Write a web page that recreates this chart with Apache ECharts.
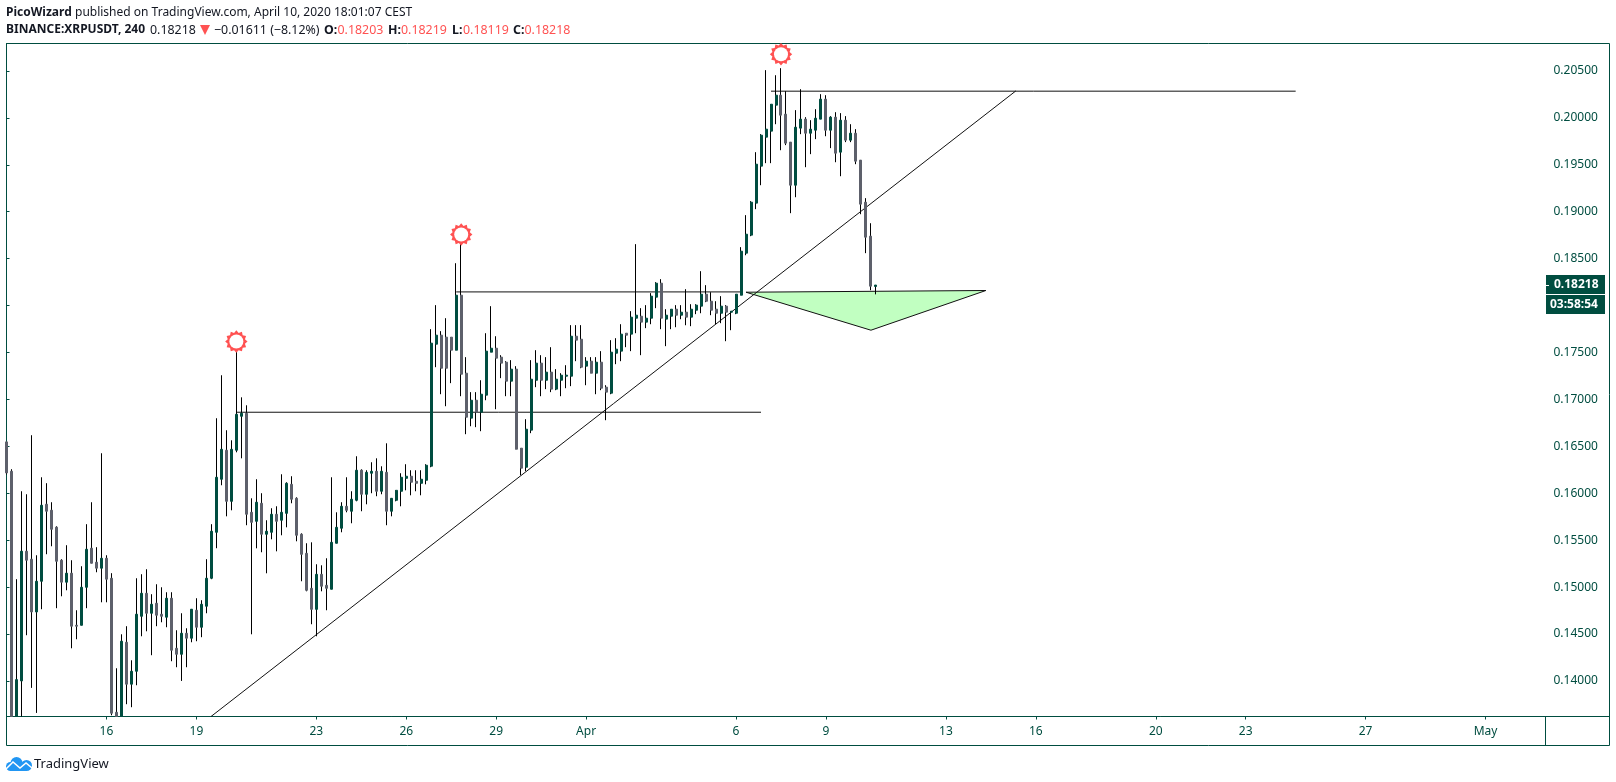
<!DOCTYPE html>
<html>
<head>
<meta charset="utf-8">
<title>BINANCE:XRPUSDT, 240</title>
<style>html,body{margin:0;padding:0;background:#fff}#chart{width:1616px;height:782px}</style>
<script src="https://cdn.jsdelivr.net/npm/echarts@6/dist/echarts.min.js"></script>
</head>
<body>
<div id="chart"></div>
<script>
// XRPUSDT 4-hour candles, one per slot starting 12 March 2020 16:00
const opens = [
.16547,.16234,.13621,.14000,.15382,.15297,.14735,.15062,.15883,.15819,
.15638,.15286,.15052,.15148,.14593,.14593,.14998,.15414,.15265,.15201,
.15307,.15094,.13666,.13621,.14412,.13965,.14103,.14689,.14934,.14721,
.14828,.14711,.14679,.14881,.14348,.14284,.14508,.14455,.14753,.14572,
.14796,.15094,.15584,.16149,.16458,.15914,.16458,.16820,.16852,.15797,
.15701,.15893,.15563,.15584,.15776,.15712,.15786,.16095,.15946,.15563,
.15360,.14987,.14763,.15136,.15019,.14977,.15467,.15627,.15861,.15808,
.15925,.16245,.15989,.16213,.16234,.16021,.16223,.15808,.15925,.16021,
.16159,.16181,.16127,.16106,.16138,.16288,.17588,.17684,.17663,.17663,
.17524,.18110,.17279,.16800,.16991,.16863,.17045,.17503,.17545,.17450,
.17396,.17194,.17322,.16480,.16277,.16672,.17204,.17386,.17204,.17290,
.17109,.17204,.17247,.17247,.17673,.17641,.17354,.17407,.17279,.17396,
.17130,.17066,.17492,.17514,.17705,.17695,.17865,.17886,.17823,.17865,
.18089,.18238,.17855,.17886,.17961,.17897,.17929,.17876,.17950,.17993,
.18121,.18046,.17961,.17918,.17993,.17929,.17918,.18110,.18558,.18750,
.19091,.19485,.19794,.19858,.20135,.20241,.20039,.19741,.19282,.19890,
.19986,.19836,.19868,.19986,.20199,.19868,.20007,.19634,.19975,.19762,
.19836,.19549,.19101,.18739,.18203];
const highs = [
.16547,.16256,.15084,.16021,.15989,.16618,.15339,.16170,.16107,.15904,
.15648,.15297,.15446,.15286,.14753,.15222,.15670,.15904,.15425,.16426,
.15339,.15148,.14135,.14497,.14583,.14220,.15094,.15137,.15190,.14924,
.15030,.14998,.14945,.14945,.14540,.14721,.14561,.14764,.14881,.14860,
.15297,.15670,.16799,.17257,.16671,.16564,.17506,.17022,.16937,.15946,
.16149,.16000,.15712,.15840,.15861,.16202,.16117,.16181,.15957,.15573,
.15467,.15477,.15243,.15232,.15307,.16170,.15797,.15904,.16170,.16021,
.16394,.16255,.16245,.16330,.16372,.16287,.16532,.15946,.16031,.16213,
.16309,.16245,.16245,.16245,.16309,.17748,.18004,.17727,.17865,.17663,
.18451,.18728,.17450,.17077,.17077,.17204,.17705,.17993,.17673,.17471,
.17407,.17418,.17354,.16480,.16789,.17418,.17524,.17471,.17450,.17556,
.17322,.17279,.17364,.17791,.17791,.17791,.17450,.17450,.17450,.17514,
.17151,.17631,.17652,.17801,.17705,.17940,.18654,.17972,.18004,.18132,
.18249,.18281,.17961,.17961,.18004,.18004,.18174,.18014,.18014,.18366,
.18217,.18142,.18046,.18100,.18004,.17940,.18121,.18622,.18963,.19112,
.19634,.19826,.20508,.20145,.20454,.20529,.20284,.19741,.20082,.20305,
.20007,.19975,.20092,.20252,.20241,.20018,.20060,.20050,.20018,.19932,
.19879,.19549,.19144,.18877,.18219];
const lows = [
.16200,.13621,.13621,.13621,.14487,.13926,.13659,.14764,.15350,.15435,
.14775,.14902,.14966,.14348,.14444,.14593,.14775,.15254,.15158,.14838,
.14838,.13634,.13621,.13621,.13752,.13720,.13954,.14476,.14529,.14274,
.14583,.14625,.14572,.14210,.14146,.14000,.14146,.14412,.14423,.14466,
.14721,.15084,.15414,.16085,.15754,.15818,.16436,.16372,.15659,.14497,
.15413,.15371,.15147,.15509,.15381,.15552,.15637,.15893,.15488,.15062,
.14955,.14604,.14476,.14955,.14753,.14977,.15467,.15584,.15797,.15680,
.15914,.15808,.15882,.16000,.15968,.15989,.15659,.15754,.15914,.15861,
.16031,.15978,.16021,.15978,.16095,.16277,.17343,.17055,.16927,.17173,
.17524,.17034,.16629,.16714,.16704,.16661,.16991,.17503,.16895,.17226,
.17034,.17034,.16469,.16192,.16235,.16640,.17130,.17034,.17109,.17077,
.17098,.17034,.17119,.17141,.17407,.17332,.17151,.17279,.17055,.17098,
.16778,.17055,.17375,.17407,.17556,.17514,.17705,.17471,.17759,.17801,
.17972,.17748,.17567,.17748,.17769,.17854,.17790,.17780,.17908,.17918,
.18036,.17897,.17801,.17812,.17620,.17737,.17908,.18110,.18536,.18739,
.19027,.19282,.19517,.19517,.19932,.19655,.19709,.18984,.19154,.19826,
.19474,.19613,.19773,.19986,.19804,.19677,.19527,.19378,.19741,.19741,
.19506,.18973,.18558,.18163,.18119];
const closes = [
.16217,.13621,.14014,.15382,.15286,.14735,.15062,.15872,.15808,.15616,
.15275,.15052,.15148,.14583,.14583,.14998,.15403,.15254,.15201,.15307,
.15084,.13656,.13621,.14423,.13965,.14103,.14711,.14934,.14721,.14817,
.14700,.14689,.14881,.14327,.14284,.14508,.14455,.14764,.14572,.14817,
.15094,.15595,.16170,.16468,.15914,.16468,.16841,.16852,.15776,.15690,
.15904,.15563,.15595,.15776,.15701,.15797,.16106,.15936,.15552,.15349,
.14966,.14763,.15136,.15009,.14987,.15477,.15637,.15861,.15818,.15936,
.16245,.15989,.16223,.16234,.16021,.16234,.15808,.15946,.16031,.16170,
.16181,.16117,.16106,.16149,.16298,.17599,.17684,.17332,.17332,.17524,
.18110,.17268,.16810,.16991,.16863,.17055,.17514,.17545,.17439,.17386,
.17194,.17322,.16469,.16267,.16682,.17215,.17386,.17204,.17290,.17109,
.17215,.17258,.17258,.17673,.17631,.17343,.17407,.17279,.17396,.17119,
.17077,.17503,.17535,.17695,.17684,.17876,.17897,.17823,.17865,.18100,
.18238,.17865,.17897,.17961,.17897,.17929,.17876,.17961,.18004,.18121,
.18046,.17950,.17918,.17993,.17929,.17940,.18121,.18579,.18760,.19101,
.19506,.19815,.19879,.20145,.20241,.20028,.19730,.19282,.19900,.19986,
.19836,.19879,.19996,.20199,.19868,.20007,.19623,.19975,.19762,.19836,
.19538,.19080,.18728,.18206,.18218];

// Price axis ticks and dated time-axis ticks
const priceTicks = [.14,.145,.15,.155,.16,.165,.17,.175,.18,.185,.19,.195,.2,.205];
const timeTicks = {
  '2020-03-16':'16','2020-03-19':'19','2020-03-23':'23','2020-03-26':'26','2020-03-29':'29',
  '2020-04-01':'Apr','2020-04-06':'6','2020-04-09':'9','2020-04-13':'13','2020-04-16':'16',
  '2020-04-20':'20','2020-04-23':'23','2020-04-27':'27','2020-05-01':'May'
};

// Hand-drawn annotations, as [slot index, price]
const risingTrend = [[40.93,.13621],[202,.20287]];
const resistanceTop = [[153,.20284],[258,.20284]];
const resistanceMid = [[90,.18145],[147,.18145]];
const resistanceLow = [[46,.16863],[151,.16863]];
const targetWedge = [[148,.18142],[196,.18160],[173,.17737]];
const peakMarkers = [[46,.17616],[91,.18757],[155,.20678]];

const SLOT_COUNT = 309;
const slotLabels = [];
for (let i = 0; i < SLOT_COUNT; i++) {
  const t = new Date(Date.UTC(2020, 2, 12, 16) + i * 4 * 3600 * 1000);
  slotLabels.push(t.toISOString().slice(0, 16).replace('T', ' '));
}
const tickDay = (label) => label.endsWith('00:00') ? timeTicks[label.slice(0, 10)] : undefined;

const INK = '#004d40', STEEL = '#5d606b', FONT = '"Noto Sans", sans-serif';

const chart = echarts.init(document.getElementById('chart'), null, {renderer: 'canvas'});

const ohlcRows = opens.map((o, i) => [o, closes[i], lows[i], highs[i]]);
const bodyRows = opens.map((o, i) => [o, closes[i], Math.min(o, closes[i]), Math.max(o, closes[i])]);

const drawnLine = (name, data) => ({
  name, type: 'line', xAxisIndex: 1, data, symbol: 'none', silent: true, z: 2,
  lineStyle: {color: '#111', width: 1}
});

chart.setOption({
  animation: false,
  backgroundColor: '#fff',
  textStyle: {fontFamily: FONT},
  grid: {left: 6.5, right: 70.5, top: 43.5, bottom: 65.5, containLabel: false},
  xAxis: [
    {
      type: 'category', data: slotLabels, boundaryGap: false,
      axisLine: {lineStyle: {color: INK, width: 1}},
      axisTick: {length: 3, lineStyle: {color: INK}, interval: (i, v) => tickDay(v) !== undefined},
      axisLabel: {
        color: INK, fontSize: 12, fontFamily: FONT, margin: 9,
        interval: (i, v) => tickDay(v) !== undefined,
        formatter: (v) => tickDay(v) || ''
      },
      splitLine: {show: false}
    },
    {type: 'value', min: 0, max: SLOT_COUNT - 1, show: false, splitLine: {show: false}}
  ],
  yAxis: {
    type: 'value', position: 'right', min: .13621, max: .20792, scale: true,
    axisLine: {show: true, lineStyle: {color: INK, width: 1}},
    axisTick: {show: true, length: 3, lineStyle: {color: INK}, customValues: priceTicks},
    axisLabel: {
      color: INK, fontSize: 12, fontFamily: FONT, margin: 8,
      customValues: priceTicks, formatter: (v) => v.toFixed(5)
    },
    splitLine: {show: false}
  },
  series: [
    {
      name: 'Target wedge', type: 'custom', xAxisIndex: 1, data: targetWedge, silent: true, z: 1,
      renderItem: (params, api) => params.dataIndex === 0 ? {
        type: 'polygon',
        shape: {points: targetWedge.map((d) => api.coord(d))},
        style: {fill: '#c1ffc1', stroke: '#111', lineWidth: 1}
      } : null
    },
    drawnLine('Rising trend', risingTrend),
    drawnLine('Resistance top', resistanceTop),
    drawnLine('Resistance mid', resistanceMid),
    drawnLine('Resistance low', resistanceLow),
    {
      name: 'Wicks', type: 'candlestick', data: ohlcRows, barWidth: 0, z: 3, silent: true,
      itemStyle: {color: '#000', color0: '#000', borderColor: '#000', borderColor0: '#000', borderWidth: 1}
    },
    {
      // 2.5 keeps the rounded body edges exactly two pixels apart wherever the candle falls
      name: 'Bodies', type: 'candlestick', data: bodyRows, barWidth: 2.5, z: 4, silent: true,
      itemStyle: {color: INK, color0: STEEL, borderColor: INK, borderColor0: STEEL, borderWidth: 1}
    },
    {
      name: 'Peaks', type: 'custom', xAxisIndex: 1, data: peakMarkers, silent: true, z: 5, clip: false,
      renderItem: (params, api) => {
        const [cx, cy] = api.coord([api.value(0), api.value(1)]);
        const pts = [];
        for (let i = 0; i < 24; i++) {
          const r = i % 2 ? 8.9 : 11.2, a = (i * Math.PI) / 12 - Math.PI / 2;
          pts.push([cx + r * Math.cos(a), cy + r * Math.sin(a)]);
        }
        return {type: 'group', children: [
          {type: 'polygon', shape: {points: pts}, style: {fill: '#ff5252'}},
          {type: 'circle', shape: {cx, cy, r: 7}, style: {fill: '#fff'}}
        ]};
      }
    }
  ]
});

// Frame, header, last-price tag and wordmark around the plot
const lastClose = closes[closes.length - 1];
const tagY = Math.round(chart.convertToPixel({yAxisIndex: 0}, lastClose));
const DARK = '#131722', RED = '#ff5252', CLOUD = '#2196f3';
const headerText = (x, y, text, fill, weight, size) => ({
  type: 'text', silent: true, x, y, z: 60,
  style: {text, fill, font: (weight || 'normal') + ' ' + (size || 12.4) + 'px ' + FONT, textVerticalAlign: 'middle'}
});

chart.setOption({
  graphic: [
    {type: 'rect', silent: true, shape: {x: 6.5, y: 43.5, width: 1603, height: 702},
     style: {fill: 'none', stroke: INK, lineWidth: 1}},
    {type: 'line', silent: true, shape: {x1: 1545.5, y1: 716, x2: 1545.5, y2: 745},
     style: {stroke: INK, lineWidth: 1}},
    {type: 'line', silent: true, shape: {x1: 1545, y1: 716.5, x2: 1609, y2: 716.5},
     style: {stroke: INK, lineWidth: 1}},
    {type: 'rect', silent: true, z: 50, shape: {x: 1546, y: tagY - 10, width: 59, height: 19}, style: {fill: INK}},
    {type: 'rect', silent: true, z: 50, shape: {x: 1546, y: tagY + 10, width: 59, height: 19}, style: {fill: INK}},
    {type: 'line', silent: true, z: 60, shape: {x1: 1546, y1: tagY + .5, x2: 1549, y2: tagY + .5},
     style: {stroke: '#fff', lineWidth: 1}},
    headerText(1554, tagY, lastClose.toFixed(5), '#fff', 'bold', 12),
    headerText(1550, tagY + 20, '03:58:54', '#fff', 'bold', 12),
    headerText(6, 13, 'PicoWizard', DARK, 'bold', 12),
    headerText(75, 13, 'published on TradingView.com, April 10, 2020 18:01:07 CEST', DARK, 'normal', 12),
    headerText(6, 30, 'BINANCE:XRPUSDT, 240', DARK, 'bold', 12),
    headerText(150, 30, '0.18218', DARK),
    {type: 'polygon', silent: true, shape: {points: [[200, 25], [210, 25], [205, 35]]}, style: {fill: RED}},
    headerText(214, 30, '−0.01611 (−8.12%)', DARK),
    headerText(324, 30, 'O:', DARK, 'bold'),
    headerText(337.5, 30, '0.18203', RED),
    headerText(388, 30, 'H:', DARK, 'bold'),
    headerText(401, 30, '0.18219', RED),
    headerText(452, 30, 'L:', DARK, 'bold'),
    headerText(463, 30, '0.18119', RED),
    headerText(513, 30, 'C:', DARK, 'bold'),
    headerText(524.5, 30, '0.18218', RED),
    {type: 'circle', silent: true, shape: {cx: 10.5, cy: 766.5, r: 4.5}, style: {fill: CLOUD}},
    {type: 'circle', silent: true, shape: {cx: 16.5, cy: 763, r: 6}, style: {fill: CLOUD}},
    {type: 'circle', silent: true, shape: {cx: 26.5, cy: 765.5, r: 5.5}, style: {fill: CLOUD}},
    {type: 'rect', silent: true, shape: {x: 10, y: 765, width: 17, height: 6}, style: {fill: CLOUD}},
    {type: 'polyline', silent: true, shape: {points: [[6, 769], [13, 762], [20, 768], [26, 763], [32, 768]]},
     style: {fill: null, stroke: '#fff', lineWidth: 1.5}},
    headerText(34, 764, 'TradingView', DARK, 'normal', 13)
  ]
});
</script>
</body>
</html>
